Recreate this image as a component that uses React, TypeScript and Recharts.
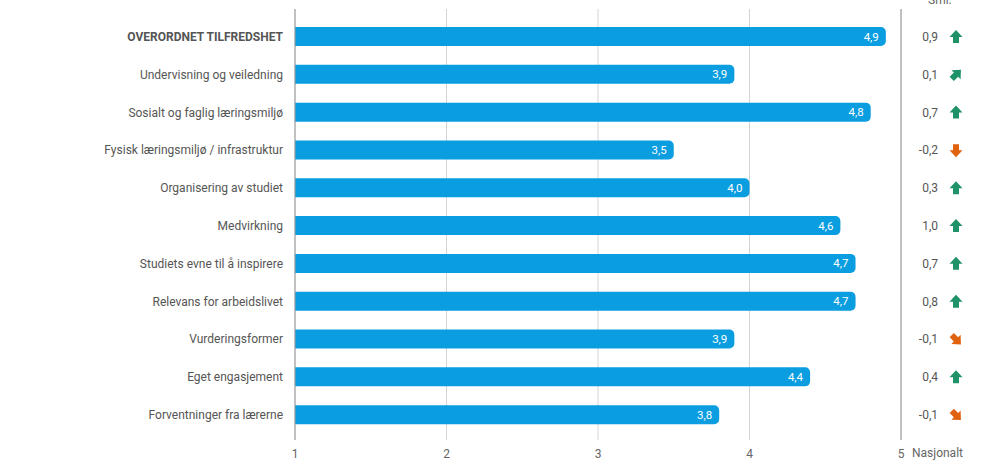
import React from 'react';
import { BarChart, Bar, XAxis, YAxis, CartesianGrid, LabelList } from 'recharts';

const categories = [
  'OVERORDNET TILFREDSHET',
  'Undervisning og veiledning',
  'Sosialt og faglig læringsmiljø',
  'Fysisk læringsmiljø / infrastruktur',
  'Organisering av studiet',
  'Medvirkning',
  'Studiets evne til å inspirere',
  'Relevans for arbeidslivet',
  'Vurderingsformer',
  'Eget engasjement',
  'Forventninger fra lærerne',
];
const scores = [4.9, 3.9, 4.8, 3.5, 4.0, 4.6, 4.7, 4.7, 3.9, 4.4, 3.8];
const diffs = [0.9, 0.1, 0.7, -0.2, 0.3, 1.0, 0.7, 0.8, -0.1, 0.4, -0.1];
const xTicks = [1, 2, 3, 4, 5];

const data = categories.map((name, i) => ({ name, score: scores[i], diff: diffs[i] }));

const FONT = 'Roboto, "Noto Sans", sans-serif';
const fmt = (v: number) => v.toFixed(1).replace('.', ',');

const LeftTick = (props: any) => {
  const { x, y, payload, index } = props;
  return (
    <text
      x={x - 4}
      y={y}
      dy={4}
      textAnchor="end"
      fontFamily={FONT}
      fontSize={12}
      fontWeight={index === 0 ? 700 : 400}
      fill="#555"
    >
      {payload.value}
    </text>
  );
};

const Arrow = ({ cx, cy, diff }: { cx: number; cy: number; diff: number }) => {
  const small = Math.abs(diff) < 0.2;
  const up = diff >= 0;
  let rot = 0;
  if (up && small) rot = 45;
  else if (up) rot = 0;
  else if (small) rot = 135;
  else rot = 180;
  const color = up ? '#1f9268' : '#e0620f';
  const d = 'M0,-7 L6.5,0 L3,0 L3,6 L-3,6 L-3,0 L-6.5,0 Z';
  return <path d={d} fill={color} transform={`translate(${cx},${cy}) rotate(${rot})`} />;
};

const RightTick = (props: any) => {
  const { x, y, index } = props;
  const diff = diffs[index];
  return (
    <g>
      <text
        x={x + 29}
        y={y}
        dy={4}
        textAnchor="end"
        fontFamily={FONT}
        fontSize={12}
        fill="#555"
      >
        {fmt(diff)}
      </text>
      <Arrow cx={x + 47} cy={y} diff={diff} />
    </g>
  );
};

export default function App() {
  return (
    <div style={{ position: 'absolute', left: 0, top: 0, width: 984, height: 472, background: '#fff' }}>
      <BarChart
        width={984}
        height={472}
        data={data}
        layout="vertical"
        margin={{ top: 9, right: 0, bottom: 0, left: 0 }}
      >
        <CartesianGrid horizontal={false} vertical stroke="#d4d4d4" />
        <XAxis
          type="number"
          domain={[1, 5]}
          ticks={xTicks}
          axisLine={false}
          tickLine={false}
          height={32}
          tick={{ fill: '#666', fontSize: 12, fontFamily: FONT }}
          tickMargin={3}
        />
        <YAxis
          yAxisId="left"
          type="category"
          dataKey="name"
          width={295}
          axisLine={{ stroke: '#999' }}
          tickLine={false}
          tick={<LeftTick />}
          padding={{ top: 9, bottom: 6 }}
          interval={0}
        />
        <YAxis
          yAxisId="right"
          orientation="right"
          type="category"
          dataKey="name"
          width={83}
          axisLine={{ stroke: '#999' }}
          tickLine={false}
          tick={<RightTick />}
          padding={{ top: 9, bottom: 6 }}
          interval={0}
        />
        <Bar
          yAxisId="left"
          dataKey="score"
          fill="#0a9de0"
          barSize={19}
          radius={[0, 5, 5, 0]}
          isAnimationActive={false}
        >
          <LabelList
            dataKey="score"
            position="insideRight"
            offset={7}
            fill="#fff"
            fontSize={11.5}
            fontFamily={FONT}
            formatter={(v: any) => fmt(Number(v))}
          />
        </Bar>
      </BarChart>
      <div
        style={{
          position: 'absolute',
          left: 928,
          top: -7,
          fontFamily: FONT,
          fontSize: 12,
          color: '#666',
          lineHeight: '14px',
        }}
      >
        Sml.
      </div>
      <div
        style={{
          position: 'absolute',
          left: 912,
          top: 446,
          fontFamily: FONT,
          fontSize: 12,
          color: '#666',
          lineHeight: '14px',
        }}
      >
        Nasjonalt
      </div>
    </div>
  );
}
